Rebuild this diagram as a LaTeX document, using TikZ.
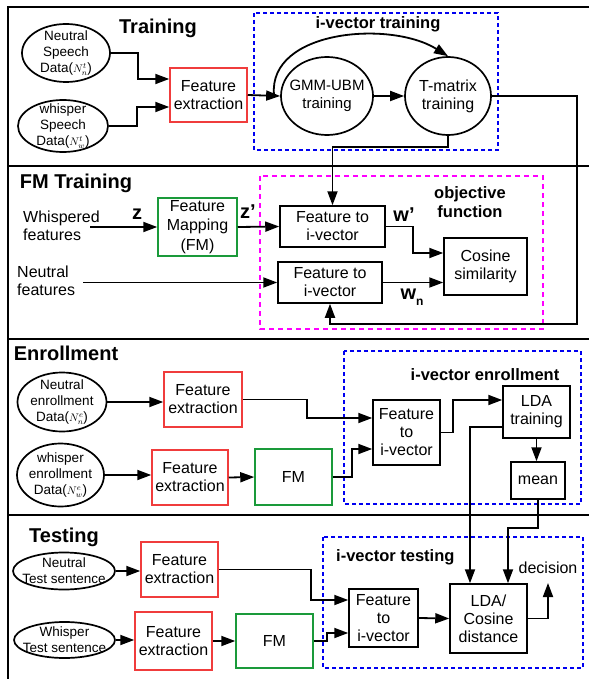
\documentclass[tikz,border=0pt]{standalone}
\usepackage{fontspec}
\setmainfont{Liberation Sans}
\usetikzlibrary{shapes.geometric,arrows.meta,calc}
\definecolor{cRed}{HTML}{F03C3C}
\definecolor{cGreen}{HTML}{1A9A3A}
\definecolor{cBlue}{HTML}{0000F0}
\definecolor{cMag}{HTML}{FF00FF}
\newcommand{\smallmath}[1]{{\fontsize{11}{11}\selectfont$#1$}}
\begin{document}
\begin{tikzpicture}[x=1pt,y=-1pt,
  box/.style={draw, line width=1.5pt, align=center, inner sep=0pt, font=\fontsize{16}{18}\selectfont},
  redbox/.style={box, draw=cRed},
  greenbox/.style={box, draw=cGreen},
  ell/.style={ellipse, draw, line width=1.7pt, inner sep=0pt},
  etxt/.style={align=center, inner sep=0pt, font=\fontsize{13.5}{16}\selectfont},
  bigtxt/.style={align=center, inner sep=0pt, font=\fontsize{16}{18}\selectfont},
  head/.style={font=\fontsize{20}{22}\selectfont\bfseries, inner sep=0pt},
  subhead/.style={font=\fontsize{16.5}{18.5}\selectfont\bfseries, inner sep=0pt, align=center},
  sym/.style={font=\fontsize{20}{22}\selectfont\bfseries, inner sep=0pt},
  arr/.style={-{Triangle[length=14pt,width=10pt]}, line width=1.8pt},
  frameline/.style={line width=1.9pt},
  bluedash/.style={draw=cBlue, line width=2pt, dash pattern=on 4pt off 3pt},
  magdash/.style={draw=cMag, line width=1.6pt, dash pattern=on 5pt off 4pt}
]
\useasboundingbox (0,0) rectangle (589,679);
% frame
\draw[frameline] (589,7) -- (8,7) -- (8,679);
\draw[frameline] (8,166) -- (589,166);
\draw[frameline] (8,339) -- (589,339);
\draw[frameline] (8,515) -- (589,515);

% ================= Training =================
\node[head] (hTrain) at (158,28) {Training};
\draw[bluedash] (254,13) rectangle (498,150);
\node[subhead] (hIvT) at (378,24) {i-vector training};

\node[ell, minimum width=88pt, minimum height=58pt] (e1) at (66,53) {};
\node[etxt] (e1t) at (e1) {Neutral\\Speech\\Data(\smallmath{N_n^t})};
\node[ell, minimum width=90pt, minimum height=52pt] (e2) at (63,126) {};
\node[etxt] (e2t) at (e2) {whisper\\Speech\\Data(\smallmath{N_w^t})};
\node[redbox, minimum width=77pt, minimum height=54pt] (fe1) at (208.5,95) {Feature\\extraction};

\node[ell, minimum width=92pt, minimum height=78pt] (gmm) at (327,96) {};
\node[bigtxt, font=\fontsize{15}{18}\selectfont] (gmmt) at (gmm) {GMM-UBM\\training};
\node[ell, minimum width=86pt, minimum height=78pt] (tm) at (448,96) {};
\node[bigtxt] (tmt) at (tm) {T-matrix\\training};

\draw[arr] (e1.east) -- (138,53) |- ([yshift=16pt]fe1.west);
\draw[arr] (e2.east) -- (137,126) |- ([yshift=-12pt]fe1.west);
\draw[arr] (fe1.east) -- (gmm.west);
\draw[arr] (gmm.east) -- (tm.west);
\coordinate (split) at (274,95);
\draw[arr] (split) .. controls (268,30) and (390,20) .. (tm.north);

% ================= FM Training =================
\node[head] (hFM) at (76,183) {FM Training};
\draw[magdash] (260,176) rectangle (543,329);
\node[subhead] (hObj) at (470,202) {objective\\function};

\node[bigtxt, align=left, anchor=west] (wf) at (23,226) {Whispered\\features};
\node[bigtxt, align=left, anchor=west] (nf) at (17,281) {Neutral\\features};
\node[sym] (zsym) at (137,214) {z};
\node[sym] (zpsym) at (248,212) {z’};
\node[greenbox, minimum width=79pt, minimum height=58pt, font=\fontsize{16}{19.5}\selectfont] (fm1) at (197.5,227) {Feature\\Mapping\\(FM)};
\node[box, minimum width=105pt, minimum height=41pt] (fti1) at (332.5,226.5) {Feature to\\i-vector};
\node[box, minimum width=104pt, minimum height=41pt] (fti2) at (330,282.5) {Feature to\\i-vector};
\node[box, minimum width=83pt, minimum height=57pt] (cos) at (485.5,266.5) {Cosine\\similarity};
\node[sym] (wpsym) at (404,215) {w’};
\node[sym] (wnsym) at (412,297) {w\raisebox{-6pt}{\fontsize{12}{12}\selectfont n}};

\coordinate (wfstart) at (90,227);
\coordinate (nfstart) at (83,282.5);
\draw[arr] (wfstart) -- (fm1.west);
\draw[arr] (nfstart) -- (fti2.west);
\draw[arr] (fm1.east) -- (fti1.west);
\draw[arr] (fti1.east) -- (413,226.5) |- ([yshift=13.5pt]cos.west);
\draw[arr] (fti2.east) -- (fti2.east -| cos.west);
\draw[arr] (tm.south) -- (448,147) -| (fti1.north);
\draw[arr] (tm.east) -- (577,96) -- (577,324) -| (fti2.south);

% ================= Enrollment =================
\node[head] (hEnr) at (66,353) {Enrollment};
\draw[bluedash] (344,351) rectangle (581,504);
\node[subhead] (hIvE) at (485,375) {i-vector enrollment};

\node[ell, minimum width=89pt, minimum height=59pt] (ee1) at (62,402) {};
\node[etxt] (ee1t) at (ee1) {Neutral\\enrollment\\Data(\smallmath{N_n^e})};
\node[ell, minimum width=87pt, minimum height=63pt] (ee2) at (60.5,475) {};
\node[etxt] (ee2t) at (ee2) {whisper\\enrollment\\Data(\smallmath{N_w^e})};
\node[redbox, minimum width=78pt, minimum height=55pt] (efe1) at (203,399.5) {Feature\\extraction};
\node[redbox, minimum width=76pt, minimum height=55pt] (efe2) at (190,477.5) {Feature\\extraction};
\node[greenbox, minimum width=77pt, minimum height=56pt] (efm) at (293.5,477) {FM};
\node[box, minimum width=67pt, minimum height=65pt] (efti) at (406.5,432.5) {Feature\\to\\i-vector};
\node[box, minimum width=67pt, minimum height=52pt] (elda) at (536.5,412) {LDA\\training};
\node[box, minimum width=54pt, minimum height=37pt] (mean) at (538,480.5) {mean};

\draw[arr] (ee1.east) -- (efe1.west |- ee1.east);
\draw[arr] (ee2.east) -- (efe2.west |- ee2.east);
\draw[arr] (efe2.east) -- (efm.west);
\draw[arr] (efe1.east) -- (307,399.5) |- ([yshift=14.5pt]efti.west);
\draw[arr] (efm.east) -- (352,477) |- ([yshift=-16.5pt]efti.west);
\draw[arr] (efti.east) -- (453,432.5) |- ([yshift=12pt]elda.west);
\draw[arr] (elda.south) -- (elda.south |- mean.north);

% ================= Testing =================
\node[head] (hTest) at (64,537) {Testing};
\draw[bluedash] (323,537) rectangle (583,668);
\node[subhead, anchor=west] (hIvTe) at (336,557) {i-vector testing};

\node[ell, minimum width=102pt, minimum height=37pt] (te1) at (64,571) {};
\node[etxt, font=\fontsize{13.5}{16}\selectfont] (te1t) at (te1) {Neutral\\Test sentence};
\node[ell, minimum width=101pt, minimum height=36pt] (te2) at (64.5,640) {};
\node[etxt, font=\fontsize{13.5}{16}\selectfont] (te2t) at (te2) {Whisper\\Test sentence};
\node[redbox, minimum width=77pt, minimum height=55pt] (tfe1) at (179.5,569.5) {Feature\\extraction};
\node[redbox, minimum width=77pt, minimum height=58pt] (tfe2) at (173.5,641) {Feature\\extraction};
\node[greenbox, minimum width=77pt, minimum height=54pt] (tfm) at (274.5,641) {FM};
\node[box, minimum width=69pt, minimum height=58pt] (tfti) at (383.5,618) {Feature\\to\\i-vector};
\node[box, minimum width=77pt, minimum height=69pt] (tlda) at (488.5,618.5) {LDA/\\Cosine\\distance};
\node[bigtxt] (dect) at (548,568) {decision};

\draw[arr] (te1.east) -- (tfe1.west |- te1.east);
\draw[arr] (te2.east) -- (tfe2.west |- te2.east);
\draw[arr] (tfe2.east) -- (tfm.west);
\draw[arr] (tfe1.east) -- (311,569.5) |- ([yshift=18pt]tfti.west);
\draw[arr] (tfm.east) -- (327,641) |- ([yshift=-15pt]tfti.west);
\draw[arr] (tfti.east) -- (tlda.west);
\coordinate (decpt) at (548,583);
\draw[arr] (tlda.east) -| (decpt);

% enrollment to testing
\draw[arr] ([yshift=-15pt]elda.west) -| ([xshift=-18.5pt]tlda.north);
\draw[arr] (mean.south) -- ++(0,28) -| ([xshift=19.5pt]tlda.north);
\end{tikzpicture}
\end{document}
